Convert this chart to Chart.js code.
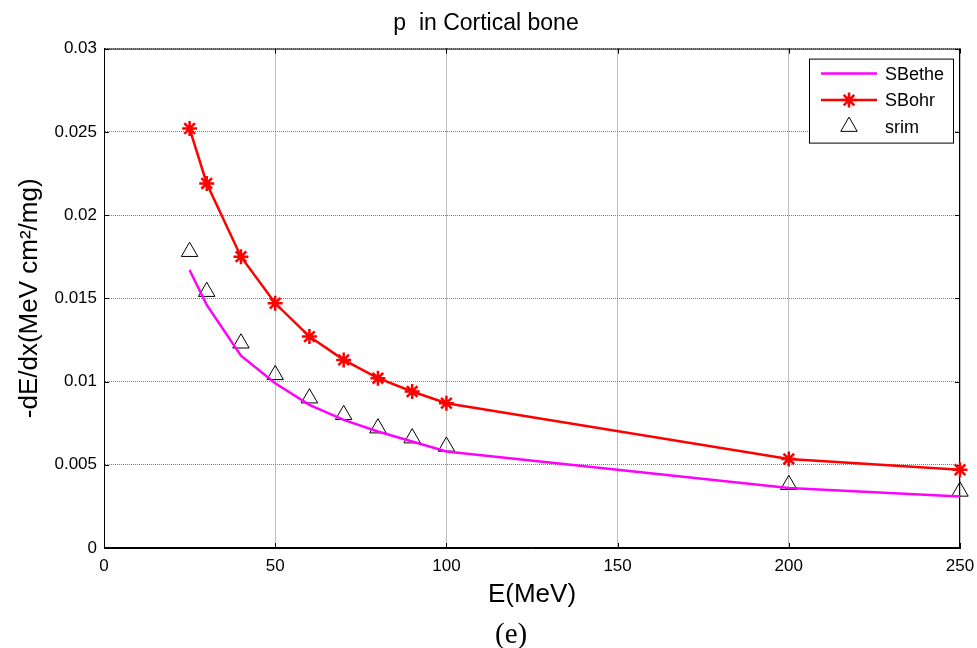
<!DOCTYPE html>
<html lang="en">
<head>
    <meta charset="UTF-8">
    <title>p in Cortical bone</title>
    <script src="https://cdn.jsdelivr.net/npm/chart.js"></script>
    <style>
        body { margin: 0; background: #fff; }
        .wrap { position: relative; width: 977px; height: 648px; }
        .caption {
            position: absolute;
            left: 495px;
            top: 616px;
            line-height: 34px;
            font-family: "Liberation Serif", "Times New Roman", serif;
            font-size: 29px;
            color: #000;
        }
    </style>
</head>
<body>
    <div class="wrap">
        <canvas id="stoppingChart"></canvas>
        <div class="caption">(e)</div>
    </div>
    <script>
        // energies (MeV) and stopping powers
        const energyMeV = [25, 30, 40, 50, 60, 70, 80, 90, 100, 200, 250];
        const sBethe = [0.0167, 0.0146, 0.01155, 0.0099, 0.0086, 0.0077, 0.0070, 0.0064, 0.0058, 0.0036, 0.0031];
        const sBohr  = [0.0252, 0.0219, 0.0175, 0.0147, 0.0127, 0.0113, 0.0102, 0.0094, 0.0087, 0.00535, 0.0047];
        const srim   = [0.0178, 0.0154, 0.0123, 0.0104, 0.0090, 0.0080, 0.0072, 0.0066, 0.0061, 0.0038, 0.0034];

        const xTickValues = [0, 50, 100, 150, 200, 250];
        const yTickValues = [0, 0.005, 0.01, 0.015, 0.02, 0.025, 0.03];
        const yTickLabels = ['0', '0.005', '0.01', '0.015', '0.02', '0.025', '0.03'];

        function toPoints(values) {
            return energyMeV.map((e, i) => ({ x: e, y: values[i] }));
        }

        Chart.defaults.font.family = '"Liberation Sans", Arial, sans-serif';
        Chart.defaults.color = '#000';

        // keep the plot box fixed, labels may hang over the edges
        function noEdgePadding(s) {
            s.paddingLeft = 0; s.paddingRight = 0;
            s.paddingTop = 0; s.paddingBottom = 0;
        }

        // box around plot, inward ticks, matlab style legend
        const matlabFrame = {
            id: 'matlabFrame',
            beforeDatasetsDraw(chart) {
                const { ctx, chartArea: a, scales } = chart;
                ctx.save();
                ctx.strokeStyle = '#000';
                ctx.lineWidth = 1;
                ctx.strokeRect(a.left + 0.5, a.top + 0.5, a.right - a.left - 1, a.bottom - a.top - 1);
                ctx.beginPath();
                scales.x.ticks.forEach(t => {
                    const px = Math.round(scales.x.getPixelForValue(t.value)) + 0.5;
                    ctx.moveTo(px, a.bottom); ctx.lineTo(px, a.bottom - 5);
                    ctx.moveTo(px, a.top); ctx.lineTo(px, a.top + 5);
                });
                scales.y.ticks.forEach(t => {
                    const py = Math.round(scales.y.getPixelForValue(t.value)) + 0.5;
                    ctx.moveTo(a.left, py); ctx.lineTo(a.left + 5, py);
                    ctx.moveTo(a.right, py); ctx.lineTo(a.right - 5, py);
                });
                ctx.stroke();
                ctx.restore();
            },
            afterDraw(chart) {
                const { ctx, chartArea: a } = chart;
                const w = 144, h = 84;
                const x0 = a.right - 7 - w, y0 = a.top + 10;
                ctx.save();
                ctx.fillStyle = '#fff';
                ctx.fillRect(x0, y0, w, h);
                ctx.strokeStyle = '#000';
                ctx.lineWidth = 1;
                ctx.strokeRect(x0 + 0.5, y0 + 0.5, w, h);
                ctx.font = '18px "Liberation Sans", Arial, sans-serif';
                ctx.textBaseline = 'middle';
                chart.data.datasets.forEach((ds, i) => {
                    const cy = y0 + 15 + i * 26.5;
                    const lx = x0 + 12, rx = x0 + 68;
                    if (ds.showLine !== false) {
                        ctx.strokeStyle = ds.borderColor;
                        ctx.lineWidth = ds.borderWidth;
                        ctx.beginPath();
                        ctx.moveTo(lx, cy); ctx.lineTo(rx, cy);
                        ctx.stroke();
                    }
                    if (ds.pointRadius > 0) {
                        ctx.strokeStyle = ds.pointBorderColor;
                        ctx.fillStyle = ds.pointBackgroundColor;
                        ctx.lineWidth = ds.pointBorderWidth;
                        Chart.helpers.drawPoint(ctx, {
                            pointStyle: ds.pointStyle,
                            radius: ds.pointRadius,
                            borderWidth: ds.pointBorderWidth,
                            rotation: 0
                        }, (lx + rx) / 2, cy);
                    }
                    ctx.fillStyle = '#000';
                    ctx.fillText(ds.label, rx + 8, cy + 1);
                });
                ctx.restore();
            }
        };

        const ctx = document.getElementById('stoppingChart').getContext('2d');
        new Chart(ctx, {
            type: 'line',
            data: {
                datasets: [
                    {
                        label: 'SBethe',
                        data: toPoints(sBethe),
                        borderColor: '#ff00ff',
                        borderWidth: 2.5,
                        pointRadius: 0,
                        pointBorderColor: '#ff00ff',
                        pointBackgroundColor: '#ff00ff',
                        pointBorderWidth: 1,
                        tension: 0,
                        clip: false
                    },
                    {
                        label: 'SBohr',
                        data: toPoints(sBohr),
                        borderColor: '#ff0000',
                        borderWidth: 2.5,
                        pointStyle: 'star',
                        pointRadius: 7.5,
                        pointBorderColor: '#ff0000',
                        pointBackgroundColor: '#ff0000',
                        pointBorderWidth: 2.5,
                        tension: 0,
                        clip: false
                    },
                    {
                        label: 'srim',
                        data: toPoints(srim),
                        showLine: false,
                        borderColor: '#000',
                        borderWidth: 1,
                        pointStyle: 'triangle',
                        pointRadius: 9.5,
                        pointBorderColor: '#000',
                        pointBackgroundColor: 'rgba(255,255,255,0)',
                        pointBorderWidth: 1,
                        clip: false
                    }
                ]
            },
            options: {
                responsive: true,
                maintainAspectRatio: false,
                animation: false,
                layout: { padding: { left: 12, right: 17, top: 0, bottom: 38 } },
                plugins: {
                    legend: { display: false },
                    tooltip: { enabled: false },
                    title: {
                        display: true,
                        text: 'p  in Cortical bone',
                        color: '#000',
                        font: { size: 23, weight: 'normal' },
                        padding: { top: 10, bottom: 11 }
                    }
                },
                scales: {
                    x: {
                        type: 'linear',
                        min: 0,
                        max: 250,
                        afterBuildTicks: s => { s.ticks = xTickValues.map(v => ({ value: v })); },
                        afterFit: s => { s.height = 62; noEdgePadding(s); },
                        ticks: { font: { size: 17 }, color: '#000', padding: 8, maxRotation: 0 },
                        grid: { color: '#808080', drawTicks: false },
                        border: { color: '#000', dash: [1, 1] },
                        title: {
                            display: true,
                            text: 'E(MeV)',
                            color: '#000',
                            font: { size: 26 },
                            padding: { top: 2, bottom: 0 }
                        }
                    },
                    y: {
                        min: 0,
                        max: 0.03,
                        afterBuildTicks: s => { s.ticks = yTickValues.map(v => ({ value: v })); },
                        afterFit: s => { s.width = 92; noEdgePadding(s); },
                        ticks: {
                            font: { size: 17 },
                            color: '#000',
                            padding: 7,
                            callback: (v, i) => yTickLabels[i]
                        },
                        grid: { color: '#808080', drawTicks: false },
                        border: { color: '#000', dash: [1, 1] },
                        title: {
                            display: true,
                            text: '-dE/dx(MeV cm²/mg)',
                            color: '#000',
                            font: { size: 26 },
                            padding: { top: 2, bottom: 0 }
                        }
                    }
                }
            },
            plugins: [matlabFrame]
        });
    </script>
</body>
</html>
